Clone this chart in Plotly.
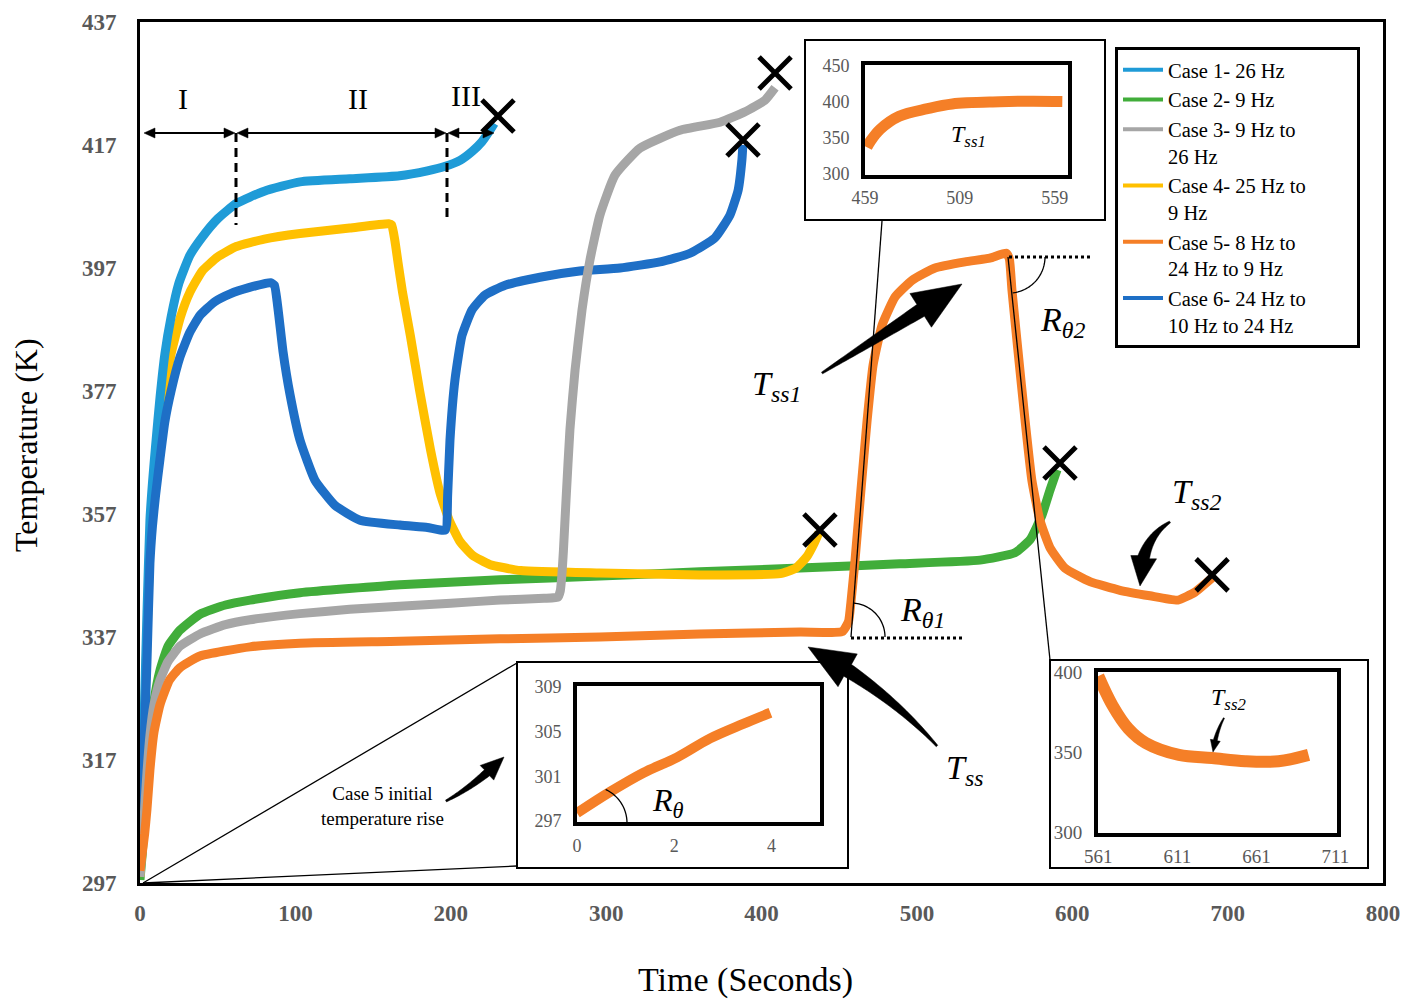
import math
import plotly.graph_objects as go

# ---------------- data ----------------
case1_t = [0, 1.5, 3, 4.5, 6.4, 8, 10, 12.9, 16, 20, 25, 32, 40, 50, 62, 80, 103, 135, 167, 185, 196, 206, 214, 220, 225, 228]
case1_T = [299, 312, 327, 341, 356, 362, 368, 376, 383, 389, 394.5, 399, 402, 405, 407.5, 409.5, 411, 411.5, 412, 412.8, 413.5, 414.5, 416, 417.5, 419.3, 420.5]

case2_t = [0, 1.5, 3, 4.5, 6.4, 9, 12.9, 18, 25.7, 38.6, 55, 70.8, 103, 167.3, 231.7, 296, 360.4, 424.8, 489.1, 540.6, 563.1, 572.8, 580.5, 585.7, 590.2]
case2_T = [297.5, 302, 308, 314, 320.3, 326.5, 331.6, 335.5, 338.1, 340.7, 342.2, 343, 344.2, 345.5, 346.3, 346.9, 347.6, 348.2, 348.9, 349.5, 350.7, 352.8, 356.8, 360.9, 364.2]

case3_t = [0, 1.5, 3, 4.5, 6.4, 9, 12.9, 18, 25.7, 38.6, 55, 70.8, 103, 135, 167, 200, 232, 260, 269, 270.5, 271.5, 272.5, 274.2, 276.7, 280, 284.5, 289.6, 296, 305.7, 321.8, 347.5, 373.3, 389.4, 402.3, 408.7]
case3_T = [298, 303, 309, 315, 321, 326, 330, 333, 335.5, 337.5, 339, 339.8, 340.8, 341.5, 342, 342.5, 343, 343.3, 343.5, 344.5, 347, 351, 359.3, 370.7, 380.4, 390.2, 398.3, 405.6, 412.1, 416.5, 419.4, 420.7, 422.4, 424.3, 426.3]

case4_t = [0, 1.5, 3, 4.5, 6.4, 8, 10, 12.9, 16, 20, 26, 32, 40, 50, 62, 80, 103, 135, 160, 162, 164, 166, 169, 174, 180, 187, 193, 199, 206, 214, 225, 245, 296, 360, 412, 422, 429, 434, 437]
case4_T = [298, 310, 324, 337, 352, 358, 364, 371, 377, 383, 389, 393, 396.5, 398.8, 400.5, 401.7, 402.6, 403.5, 404.2, 404, 401.5, 398, 393, 386, 377, 367.4, 360.5, 356, 352.5, 350.3, 348.8, 347.8, 347.4, 347.1, 347.3, 348.2, 350, 352.3, 354]

case5_t = [0, 1.5, 3, 4.5, 6.4, 9, 12.9, 19, 25.7, 38.6, 70.8, 103, 167.3, 231.7, 296, 360.4, 424.8, 452, 456, 457.5, 460.2, 464, 468, 471.8, 477.6, 486, 496.9, 511.7, 531, 547, 557.5, 559.5, 561.2, 565, 569.6, 574, 579.2, 585.7, 595.3, 611.4, 630.7, 650, 668, 679, 690]
case5_T = [299, 302, 305, 309, 315.4, 321.5, 326, 330, 332, 333.9, 335.4, 336, 336.3, 336.7, 337, 337.5, 337.8, 337.9, 339.5, 342.5, 349.5, 360.9, 372.3, 381.2, 387.7, 392.3, 395, 397, 398, 398.6, 399.4, 398.5, 393.4, 383.7, 372.3, 362.5, 356, 351.5, 348.2, 346, 344.6, 343.7, 343, 344.3, 346.6]

case6_t = [0, 1.5, 3, 4.5, 6.4, 8, 10, 12.9, 16, 20, 25.7, 32, 38.6, 48, 58, 70, 84, 86.5, 89, 92, 96.5, 103, 112.6, 125.5, 141.6, 167.3, 185, 196.5, 198, 199.5, 202.7, 207.2, 213.7, 222, 235, 257.4, 283, 309, 334.7, 354, 370, 379.7, 385, 387.4, 388]
case6_T = [300, 310, 322, 333, 349, 355, 360, 366, 372, 377, 382.5, 386.5, 389.3, 391.5, 392.8, 393.8, 394.6, 394.2, 390, 383.5, 376.5, 369, 362.5, 358.4, 356, 355.2, 354.8, 354.4, 360, 369, 378.8, 386, 390.2, 392.6, 394.2, 395.5, 396.5, 397, 398, 399.4, 401.9, 405.6, 409.7, 414.6, 417]

NB = "&nbsp;"
case_names = ["Case 1- 26 Hz", "Case 2- 9 Hz", "Case 3- 9 Hz to<br>26 Hz", "Case 4- 25 Hz to" + NB * 9 + "<br>9 Hz",
              "Case 5- 8 Hz to<br>24 Hz to 9 Hz", "Case 6- 24 Hz to<br>10 Hz to 24 Hz"]
case_colors = ["#1F9BD7", "#41AD3A", "#A6A6A6", "#FFC000", "#F57F27", "#1E6FC6"]

# failure points (X marks)
fail_t = [230.4, 592.1, 408.7, 437.6, 690.0, 388.1]
fail_T = [421.7, 365.3, 428.7, 354.4, 347.1, 417.8]

# insets
ins1_t = [460, 462, 467, 477, 492, 505, 530, 545, 563]
ins1_T = [337, 346, 362, 380, 390.5, 397, 400, 400.8, 400.5]
ins3_t = [0, 0.68, 1.36, 2.06, 2.74, 3.42, 3.98]
ins3_T = [297.7, 299.6, 301.3, 302.7, 304.4, 305.7, 306.7]
ins4_t = [561, 570, 580, 591, 612, 633, 654, 675, 694]
ins4_T = [398, 379.5, 365, 356, 348.5, 346.5, 344.5, 344.5, 348.5]

x_ticks = [0, 100, 200, 300, 400, 500, 600, 700, 800]
y_ticks = [297, 317, 337, 357, 377, 397, 417, 437]

# ---------------- geometry helpers ----------------
# the page has an 8px body margin; the figure is sized to fit the 1408x1008
# window and put the plot area at page x 140..1383, y 22..883
OFF = 8
W, H = 1408 - 2 * OFF, 1008 - 2 * OFF
PL, PR, PT, PB = 140, 1383, 22, 883          # plot area in page pixels
ML, MT = PL - OFF, PT - OFF
MR = W - (PR - OFF)
MB = H - (PB - OFF)
PW, PH = PR - PL, PB - PT
XMAX, YMIN, YMAX = 800, 297, 437
SERIF = "Liberation Serif"


def pxp(x):
    return (x - PL) / PW


def pyp(y):
    return (PB - y) / PH


def path_of(pts, close=False):
    s = "M " + " L ".join(f"{pxp(x):.5f},{pyp(y):.5f}" for x, y in pts)
    return s + (" Z" if close else "")


def tapered_arrow(p0, p1, ctrl=None, w0=1.0, w1=6.0, hw=18.0, hl=38.0, n=30):
    if ctrl is None:
        ctrl = ((p0[0] + p1[0]) / 2, (p0[1] + p1[1]) / 2)

    def B(s):
        return ((1 - s) ** 2 * p0[0] + 2 * (1 - s) * s * ctrl[0] + s * s * p1[0],
                (1 - s) ** 2 * p0[1] + 2 * (1 - s) * s * ctrl[1] + s * s * p1[1])

    pts = [B(i / 200) for i in range(201)]
    L = sum(math.dist(pts[i], pts[i + 1]) for i in range(200))
    sb = max(0.05, 1 - hl / L)
    left, right = [], []
    for i in range(n + 1):
        s = sb * i / n
        x, y = B(s)
        x2, y2 = B(min(s + 1e-3, 1))
        dx, dy = x2 - x, y2 - y
        d = math.hypot(dx, dy)
        nx, ny = -dy / d, dx / d
        w = w0 + (w1 - w0) * i / n
        left.append((x + nx * w, y + ny * w))
        right.append((x - nx * w, y - ny * w))
    bx, by = B(sb)
    dx, dy = p1[0] - bx, p1[1] - by
    d = math.hypot(dx, dy)
    nx, ny = -dy / d, dx / d
    poly = left + [(bx + nx * hw, by + ny * hw), p1, (bx - nx * hw, by - ny * hw)] + right[::-1]
    return path_of(poly, close=True)


def arc(cx, cy, r, a0, a1, n=30):
    pts = []
    for i in range(n + 1):
        a = math.radians(a0 + (a1 - a0) * i / n)
        pts.append((cx + r * math.cos(a), cy + r * math.sin(a)))
    return path_of(pts)


def head(tip, direction, length=11, half=5):
    x, y = tip
    return path_of([(x, y), (x - direction * length, y - half), (x - direction * length, y + half)], close=True)


fig = go.Figure()

series = {
    0: (case1_t, case1_T), 1: (case2_t, case2_T), 2: (case3_t, case3_T),
    3: (case4_t, case4_T), 4: (case5_t, case5_T), 5: (case6_t, case6_T),
}
draw_order = [1, 3, 0, 5, 2, 4]
for i in draw_order:
    t, T = series[i]
    fig.add_trace(go.Scatter(x=t, y=T, mode="lines", showlegend=False,
                             line=dict(color=case_colors[i], width=9, shape="spline", smoothing=0.45),
                             hoverinfo="skip"))

# legend entries
for i in range(6):
    fig.add_trace(go.Scatter(x=[None], y=[None], mode="lines", name=case_names[i],
                             line=dict(color=case_colors[i], width=4)))

# X marks
fig.add_trace(go.Scatter(x=fail_t, y=fail_T, mode="markers", showlegend=False,
                         marker=dict(symbol="x-thin", size=32, color="black",
                                     line=dict(color="black", width=5))))

# inset traces
fig.add_trace(go.Scatter(x=ins1_t, y=ins1_T, mode="lines", xaxis="x2", yaxis="y2", showlegend=False,
                         line=dict(color=case_colors[4], width=11, shape="spline")))
fig.add_trace(go.Scatter(x=ins3_t, y=ins3_T, mode="lines", xaxis="x3", yaxis="y3", showlegend=False,
                         line=dict(color=case_colors[4], width=10, shape="spline")))
fig.add_trace(go.Scatter(x=ins4_t, y=ins4_T, mode="lines", xaxis="x4", yaxis="y4", showlegend=False,
                         line=dict(color=case_colors[4], width=12, shape="spline")))

tick_gray = "#595959"
main_axis = dict(showgrid=False, zeroline=False, showline=True, mirror=True, automargin=False,
                 linecolor="black", linewidth=3, ticks="", ticklabeloverflow="allow")


def inset_axis(**kw):
    d = dict(showgrid=False, zeroline=False, showline=True, mirror=True, automargin=False,
             linecolor="black", linewidth=4, ticks="", fixedrange=True,
             tickfont=dict(family=SERIF, size=18, color=tick_gray), ticklabelstandoff=8)
    d.update(kw)
    return d


shapes = []
# inset outer boxes
for (x0, y0, x1, y1) in [(805, 40, 1105, 220), (517, 662, 848, 868), (1050, 660, 1368, 868)]:
    shapes.append(dict(type="rect", xref="paper", yref="paper", x0=pxp(x0), x1=pxp(x1),
                       y0=pyp(y1), y1=pyp(y0), line=dict(color="black", width=2), layer="above"))
# zoom lines
for (a, b) in [((882, 221), (851, 637)), ((1008, 257), (1050, 660)),
               ((143, 883), (517, 663)), ((143, 883), (517, 866))]:
    shapes.append(dict(type="line", xref="paper", yref="paper", x0=pxp(a[0]), y0=pyp(a[1]),
                       x1=pxp(b[0]), y1=pyp(b[1]), line=dict(color="black", width=1.3)))
# dashed region separators
for (x, yb) in [(236, 225), (447, 220)]:
    shapes.append(dict(type="line", xref="paper", yref="paper", x0=pxp(x), x1=pxp(x),
                       y0=pyp(133), y1=pyp(yb), line=dict(color="black", width=3, dash="9px,6px")))
# region double arrows (I, II, III)
for (x0, x1) in [(143, 236), (236, 447), (447, 495)]:
    shapes.append(dict(type="line", xref="paper", yref="paper", x0=pxp(x0 + 3), x1=pxp(x1 - 3),
                       y0=pyp(133), y1=pyp(133), line=dict(color="black", width=2)))
    for tip, dr in [((x0 + 1, 133), -1), ((x1 - 1, 133), 1)]:
        shapes.append(dict(type="path", xref="paper", yref="paper", path=head(tip, dr),
                           fillcolor="black", line=dict(color="black", width=0.5)))
# dotted reference lines
for (x0, x1, y) in [(851, 962, 638), (1009, 1092, 257)]:
    shapes.append(dict(type="line", xref="paper", yref="paper", x0=pxp(x0), x1=pxp(x1),
                       y0=pyp(y), y1=pyp(y), line=dict(color="black", width=3, dash="dot")))
# angle arcs
for p in [arc(851, 637, 34, -85, 0), arc(1009, 257, 36, 0, 84), arc(590, 823, 37, -65, 0)]:
    shapes.append(dict(type="path", xref="paper", yref="paper", path=p,
                       line=dict(color="black", width=1.3)))
# filled arrows
arrows = [
    tapered_arrow((822, 373), (962, 284), ctrl=(890, 330), w0=1, w1=7, hw=20, hl=48),
    tapered_arrow((937, 746), (808, 647), ctrl=(885, 688), w0=1, w1=7, hw=19, hl=44),
    tapered_arrow((1170, 522), (1140, 586), ctrl=(1140, 540), w0=1, w1=6, hw=13, hl=26),
    tapered_arrow((446, 801), (504, 757), ctrl=(476, 785), w0=1, w1=4, hw=10, hl=22),
    tapered_arrow((1224, 718), (1213, 752), ctrl=(1216, 732), w0=0.6, w1=2, hw=5, hl=11),
]
for p in arrows:
    shapes.append(dict(type="path", xref="paper", yref="paper", path=p,
                       fillcolor="black", line=dict(color="black", width=0.5)))

annotations = []


def txt(text, x, y, size, color="black", angle=0):
    annotations.append(dict(text=text, x=pxp(x), y=pyp(y), xref="paper", yref="paper",
                            showarrow=False, textangle=angle, xanchor="center", yanchor="middle",
                            font=dict(family=SERIF, size=size, color=color)))


txt("I", 183, 98, 30)
txt("II", 358, 98, 30)
txt("III", 466, 96, 30)
txt("<i>T<sub>ss1</sub></i>", 776, 386, 34)
txt("<i>R<sub>θ2</sub></i>", 1062, 322, 34)
txt("<i>R<sub>θ1</sub></i>", 922, 612, 34)
txt("<i>T<sub>ss</sub></i>", 964, 770, 34)
txt("<i>T<sub>ss2</sub></i>", 1196, 494, 34)
txt("Case 5 initial<br>temperature rise", 382, 806, 19)
txt("<i>T<sub>ss1</sub></i>", 968, 136, 24)
txt("<i>T<sub>ss2</sub></i>", 1228, 699, 24)
txt("<i>R<sub>θ</sub></i>", 668, 802, 32)
txt("Temperature (K)", 26, 445, 32, angle=-90)
txt("Time (Seconds)", 745, 980, 34)

fig.update_layout(
    width=W, height=H,
    margin=dict(l=ML, r=MR, t=MT, b=MB, autoexpand=False),
    paper_bgcolor="white", plot_bgcolor="rgba(0,0,0,0)",
    xaxis=dict(domain=[0, 1], range=[0, XMAX], tickvals=x_ticks, ticklabelstandoff=7,
               tickfont=dict(family=SERIF, size=23, color=tick_gray, weight="bold"), **main_axis),
    yaxis=dict(domain=[0, 1], range=[YMIN, YMAX], tickvals=y_ticks, ticklabelstandoff=16,
               tickfont=dict(family=SERIF, size=23, color=tick_gray, weight="bold"), **main_axis),
    xaxis2=inset_axis(domain=[pxp(865), pxp(1068)], anchor="y2", range=[459, 566], tickvals=[459, 509, 559],
                      ticklabelstandoff=3),
    yaxis2=inset_axis(domain=[pyp(175), pyp(65)], anchor="x2", range=[298.5, 451], tickvals=[300, 350, 400, 450]),
    xaxis3=inset_axis(domain=[pxp(577), pxp(820)], anchor="y3", range=[0, 5.0], tickvals=[0, 2, 4],
                      ticklabelstandoff=4),
    yaxis3=inset_axis(domain=[pyp(822), pyp(686)], anchor="x3", range=[296.9, 309.1], tickvals=[297, 301, 305, 309]),
    xaxis4=inset_axis(domain=[pxp(1098), pxp(1337)], anchor="y4", range=[560.8, 712], tickvals=[561, 611, 661, 711],
                      tickfont=dict(family=SERIF, size=19, color=tick_gray), ticklabelstandoff=3),
    yaxis4=inset_axis(domain=[pyp(833), pyp(672)], anchor="x4", range=[299.5, 400.5], tickvals=[300, 350, 400],
                      tickfont=dict(family=SERIF, size=19, color=tick_gray)),
    legend=dict(x=pxp(1115), y=pyp(47), xanchor="left", yanchor="top", bgcolor="white",
                bordercolor="black", borderwidth=3, valign="top", itemwidth=40, tracegroupgap=0,
                font=dict(family=SERIF, size=20.5, color="black")),
    shapes=shapes,
    annotations=annotations,
    showlegend=True,
)

fig.write_html("out.html")
